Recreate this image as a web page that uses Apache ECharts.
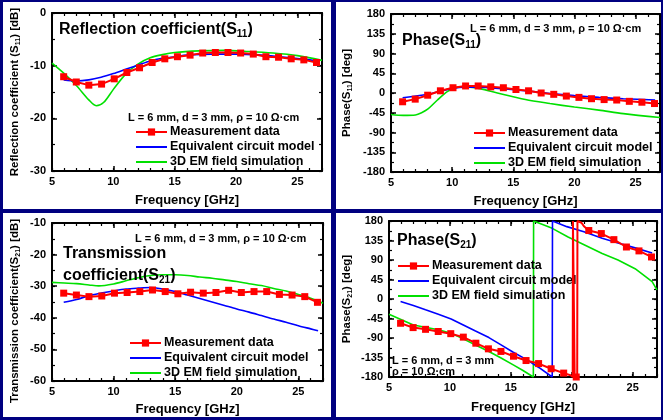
<!DOCTYPE html>
<html>
<head>
<meta charset="utf-8">
<script src="https://cdn.jsdelivr.net/npm/echarts@6/dist/echarts.min.js"></script>
<style>
  html, body { margin: 0; padding: 0; }
  .page { position: relative; width: 663px; height: 420px; background: #000080; overflow: hidden; }
  .panel { position: absolute; background: #fff; }
  #chart { position: absolute; left: 0; top: 0; width: 663px; height: 420px; }
</style>
</head>
<body>
<div class="page">
  <div class="panel" style="left:3px;top:2px;width:328px;height:207px"></div>
  <div class="panel" style="left:336px;top:2px;width:325px;height:207px"></div>
  <div class="panel" style="left:3px;top:213px;width:328px;height:204px"></div>
  <div class="panel" style="left:336px;top:213px;width:325px;height:204px"></div>
  <div id="chart"></div>
</div>
<script>
// 测量点频率 (GHz), 四个图共用
const measFreq = [5.95, 6.98, 8.0, 9.04, 10.07, 11.1, 12.13, 13.16, 14.19, 15.22, 16.25,
  17.28, 18.31, 19.34, 20.37, 21.4, 22.43, 23.46, 24.49, 25.52, 26.55];

// S11 幅度 [dB]
const s11MagMeas = [-12.1, -13.1, -13.7, -13.5, -12.5, -11.3, -10.4, -9.4, -8.7, -8.3, -8.0,
  -7.6, -7.5, -7.5, -7.6, -7.8, -8.3, -8.4, -8.7, -8.9, -9.4];
const s11MagCircFreq = [5.95, 7, 8, 9, 10, 11, 12, 13, 14, 15, 16, 18, 20, 22, 24, 26, 26.6];
const s11MagCirc = [-12.7, -12.9, -12.7, -12.2, -11.5, -10.7, -9.9, -9.1, -8.6, -8.3, -8.0, -7.8, -7.8, -8.0, -8.4, -8.9, -9.2];
const s11MagEmFreq = [5, 6, 7, 8, 8.6, 9.2, 10, 11, 12, 13, 14, 15, 17, 19, 21, 23, 25, 27];
const s11MagEm = [-9.5, -11.5, -13.8, -16.5, -17.6, -17.0, -14.5, -11.6, -9.7, -8.5, -7.9, -7.5, -7.2, -7.1, -7.3, -7.6, -8.1, -9.0];

// S11 相位 [deg]
const s11PhaseMeas = [-20, -14, -5, 5, 12, 16, 16, 14, 12, 8, 5, 0, -3, -7, -10, -13, -15, -16, -19, -21, -24];
const s11PhaseCircFreq = [5.95, 8, 9, 10, 11, 12, 14, 16, 18, 20, 22, 24, 26.6];
const s11PhaseCirc = [-11, -3, 4, 10, 13, 13, 10, 5, -1, -6, -10, -13, -16];
const s11PhaseEmFreq = [5, 6, 7, 7.5, 8, 8.8, 9.6, 10.4, 11.2, 12.3, 13.7, 16, 18, 20, 22, 24, 27];
const s11PhaseEm = [-49, -51, -50, -45, -37, -16, 3, 13, 14, 10, 0, -15, -24, -32, -39, -47, -56];

// S21 幅度 [dB]
const s21MagMeas = [-32.2, -32.8, -33.3, -33.1, -32.2, -32.0, -31.7, -31.2, -31.7, -32.4, -31.9,
  -32.2, -32.0, -31.3, -32.0, -31.7, -31.7, -32.6, -32.8, -33.3, -35.1];
const s21MagCircFreq = [5.95, 7, 8, 9, 10, 11, 12, 13, 14, 15, 16, 17, 18, 19, 20, 21, 22, 23, 24, 25, 26, 26.6];
const s21MagCirc = [-35.1, -34.2, -33.0, -32.2, -31.5, -30.9, -30.6, -30.4, -30.9, -31.7, -32.8,
  -33.9, -35.0, -36.1, -37.2, -38.2, -39.3, -40.4, -41.4, -42.5, -43.5, -44.1];
const s21MagEmFreq = [5, 6, 7, 8, 8.8, 10, 11, 12, 13, 14, 15, 16, 17, 18, 19, 20, 21, 22, 23, 24, 25, 26, 27];
const s21MagEm = [-28.8, -29.0, -29.2, -29.6, -29.9, -29.3, -28.3, -27.3, -26.6, -26.4, -26.4, -26.6,
  -27.1, -27.5, -28.0, -28.5, -29.2, -29.8, -30.7, -31.5, -32.6, -33.8, -35.4];

// S21 相位 [deg], 含 ±180 折返
const s21PhaseMeas = [-56, -66, -70, -75, -80, -88, -102, -115, -121, -132, -142, -149, -161, -171, -180,
  158, 151, 137, 120, 111, 97];
const s21PhaseWrapFreq = [19.9, 20.08, 20.1, 20.22, 20.24, 20.45, 20.47, 20.8, 21.0];
const s21PhaseWrap = [-176, -180, 180, 180, -180, -180, 180, 176, 168];
const s21PhaseCircFreq = [5.95, 7, 8, 9.05, 10.1, 11.1, 12.1, 13.2, 14.2, 15.2, 16.3, 17.3, 18.4, 18.42,
  19.6, 21, 22.5, 23.8, 25.2, 26.6];
const s21PhaseCirc = [-6, -15, -25, -35, -46, -60, -74, -89, -106, -123, -140, -158, -180, 180,
  167, 155, 140, 129, 118, 106];
const s21PhaseEmFreq = [5, 7, 9.05, 10.1, 11.1, 12.1, 13.2, 14.2, 15.2, 16, 16.85, 16.87, 18.4, 19.7,
  21.1, 22.5, 23.8, 25.2, 26.6, 27];
const s21PhaseEm = [-35, -60, -71, -79, -92, -106, -121, -136, -152, -165, -180, 180, 163, 143,
  124, 105, 90, 70, 40, 21];

const NAMES = ["Measurement data", "Equivalent circuit model", "3D EM field simulation"];
const FONT = "'Liberation Sans', Arial, sans-serif";

function zip(xs, ys) {
  return xs.map((x, i) => [x, ys[i]]);
}

// 四个子图的位置
const grids = [
  { left: 52, top: 13, width: 270, height: 158 },
  { left: 391, top: 14, width: 269, height: 158 },
  { left: 52, top: 223, width: 271, height: 158 },
  { left: 389, top: 221, width: 268, height: 156 },
];
const yRanges = [
  { min: -30, max: 0, interval: 10, minor: 5 },
  { min: -180, max: 180, interval: 45, minor: 22.5 },
  { min: -60, max: -10, interval: 10, minor: 5 },
  { min: -180, max: 180, interval: 45, minor: 22.5 },
];
const xNameGap = [23, 23, 22, 24];

const axisLine = { onZero: false, lineStyle: { color: "#000", width: 2 } };
const majorTick = { inside: true, length: 5, lineStyle: { color: "#000", width: 1.5 } };
const minorTickStyle = { inside: true, length: 3, lineStyle: { color: "#000", width: 1.2 } };

function makeXAxes(gi) {
  const common = { gridIndex: gi, type: "value", min: 5, max: 27, splitLine: { show: false } };
  const hidden = { show: false };
  return [
    Object.assign({}, common, {
      position: "bottom", interval: 5, axisLine: axisLine, axisTick: majorTick,
      axisLabel: {
        color: "#000", fontFamily: FONT, fontWeight: "bold", fontSize: 11, margin: 5,
        formatter: (v) => (v % 5 === 0 ? String(v) : ""),
      },
      name: "Frequency [GHz]", nameLocation: "middle", nameGap: xNameGap[gi],
      nameTextStyle: { color: "#000", fontFamily: FONT, fontWeight: "bold", fontSize: 13 },
    }),
    Object.assign({}, common, {
      position: "bottom", interval: 1, axisLine: { show: false, onZero: false },
      axisTick: minorTickStyle, axisLabel: hidden,
    }),
    Object.assign({}, common, {
      position: "top", interval: 5, axisLine: axisLine, axisTick: majorTick, axisLabel: hidden,
    }),
    Object.assign({}, common, {
      position: "top", interval: 1, axisLine: { show: false, onZero: false },
      axisTick: minorTickStyle, axisLabel: hidden,
    }),
  ];
}

function makeYAxes(gi) {
  const r = yRanges[gi];
  const common = { gridIndex: gi, type: "value", min: r.min, max: r.max, splitLine: { show: false } };
  const hidden = { show: false };
  return [
    Object.assign({}, common, {
      position: "left", interval: r.interval, axisLine: axisLine, axisTick: majorTick,
      axisLabel: { color: "#000", fontFamily: FONT, fontWeight: "bold", fontSize: 11, margin: 6 },
    }),
    Object.assign({}, common, {
      position: "left", interval: r.minor, axisLine: { show: false, onZero: false },
      axisTick: minorTickStyle, axisLabel: hidden,
    }),
    Object.assign({}, common, {
      position: "right", interval: r.interval, axisLine: axisLine, axisTick: majorTick, axisLabel: hidden,
    }),
    Object.assign({}, common, {
      position: "right", interval: r.minor, axisLine: { show: false, onZero: false },
      axisTick: minorTickStyle, axisLabel: hidden,
    }),
  ];
}

// 三条曲线
function makeSeries(gi, meas, circ, em, smooth) {
  const idx = gi * 4;
  return [
    {
      type: "line", name: NAMES[2], xAxisIndex: idx, yAxisIndex: idx, data: em,
      symbol: "none", smooth: smooth, z: 2,
      lineStyle: { color: "#00e000", width: 1.6 }, itemStyle: { color: "#00e000" },
    },
    {
      type: "line", name: NAMES[1], xAxisIndex: idx, yAxisIndex: idx, data: circ,
      symbol: "none", smooth: smooth, z: 3,
      lineStyle: { color: "#0000ff", width: 1.6 }, itemStyle: { color: "#0000ff" },
    },
    {
      type: "line", name: NAMES[0], xAxisIndex: idx, yAxisIndex: idx, data: meas,
      symbol: "rect", symbolSize: 7, showSymbol: true, z: 4,
      lineStyle: { color: "#ff0000", width: 2 }, itemStyle: { color: "#ff0000" },
    },
  ];
}

// S21 相位测量: 标记点 + 折返处的连线点(无标记)
const s21PhaseMeasData = zip(measFreq, s21PhaseMeas)
  .map((p) => ({ value: p }))
  .concat(zip(s21PhaseWrapFreq, s21PhaseWrap).map((p) => ({ value: p, symbol: "none" })))
  .sort((a, b) => a.value[0] - b.value[0]);

const legendPos = [
  { left: 135, top: 125 },
  { left: 473, top: 126 },
  { left: 129, top: 336 },
  { left: 397, top: 259 },
];

function makeLegend(pos) {
  return {
    left: pos.left, top: pos.top, orient: "vertical", padding: 0, itemGap: 1,
    itemWidth: 31, itemHeight: 9, selectedMode: false,
    // 仿真/模型曲线图例只画线, 不画圆点
    data: [
      { name: NAMES[0] },
      { name: NAMES[1], itemStyle: { opacity: 0 } },
      { name: NAMES[2], itemStyle: { opacity: 0 } },
    ],
    textStyle: { color: "#000", fontFamily: FONT, fontWeight: "bold", fontSize: 12.5, lineHeight: 14, padding: [0, 0, 0, -2] },
  };
}

const richBase = (size) => ({
  t: { fontFamily: FONT, fontWeight: "bold", fontSize: size, color: "#000" },
  s: { fontFamily: FONT, fontWeight: "bold", fontSize: Math.round(size * 0.65), color: "#000", padding: [Math.round(size * 0.55), 0, 0, 0] },
});

function label(text, x, y, size, opts) {
  opts = opts || {};
  return {
    type: "text", x: x, y: y, rotation: opts.rotate ? Math.PI / 2 : 0, z: 100,
    style: {
      text: text, rich: richBase(size),
      font: "bold " + size + "px " + FONT, fill: "#000",
      align: opts.align || "left", verticalAlign: "middle",
    },
  };
}

const PARAM = "L = 6 mm, d = 3 mm, \u03c1 = 10 \u03a9\u00b7cm";

const texts = [
  // 纵轴标题
  label("{t|Reflection coefficient (S}{s|11}{t|) [dB]}", 15, 92, 11.5, { rotate: true, align: "center" }),
  label("{t|Phase(S}{s|11}{t|) [deg]}", 347, 93, 11.5, { rotate: true, align: "center" }),
  label("{t|Transmission coefficient(S}{s|21}{t|) [dB]}", 15, 311, 11.5, { rotate: true, align: "center" }),
  label("{t|Phase(S}{s|21}{t|) [deg]}", 347, 299, 11.5, { rotate: true, align: "center" }),
  // 图内标题
  label("{t|Reflection coefficient(S}{s|11}{t|)}", 59, 30, 16),
  label("{t|Phase(S}{s|11}{t|)}", 402, 41, 16),
  label("{t|Transmission}", 63, 254, 16),
  label("{t|coefficient(S}{s|21}{t|)}", 63, 276, 16),
  label("{t|Phase(S}{s|21}{t|)}", 397, 241, 16),
  // 参数说明
  label("{t|" + PARAM + "}", 128, 117.5, 11),
  label("{t|" + PARAM + "}", 470, 29, 11),
  label("{t|" + PARAM + "}", 135, 239, 11),
  label("{t|L = 6 mm, d = 3 mm}", 392, 361, 11),
  label("{t|\u03c1 = 10 \u03a9\u00b7cm}", 392, 372, 11),
];

const myChart = echarts.init(document.getElementById("chart"));

const option = {
  animation: false,
  backgroundColor: "transparent",
  grid: grids,
  xAxis: [0, 1, 2, 3].flatMap(makeXAxes),
  yAxis: [0, 1, 2, 3].flatMap(makeYAxes),
  legend: legendPos.map(makeLegend),
  series: [].concat(
    makeSeries(0, zip(measFreq, s11MagMeas), zip(s11MagCircFreq, s11MagCirc), zip(s11MagEmFreq, s11MagEm), 0.3),
    makeSeries(1, zip(measFreq, s11PhaseMeas), zip(s11PhaseCircFreq, s11PhaseCirc), zip(s11PhaseEmFreq, s11PhaseEm), 0.3),
    makeSeries(2, zip(measFreq, s21MagMeas), zip(s21MagCircFreq, s21MagCirc), zip(s21MagEmFreq, s21MagEm), 0.3),
    makeSeries(3, s21PhaseMeasData, zip(s21PhaseCircFreq, s21PhaseCirc), zip(s21PhaseEmFreq, s21PhaseEm), false)
  ),
  graphic: { elements: texts },
};

myChart.setOption(option, true);
</script>
</body>
</html>
